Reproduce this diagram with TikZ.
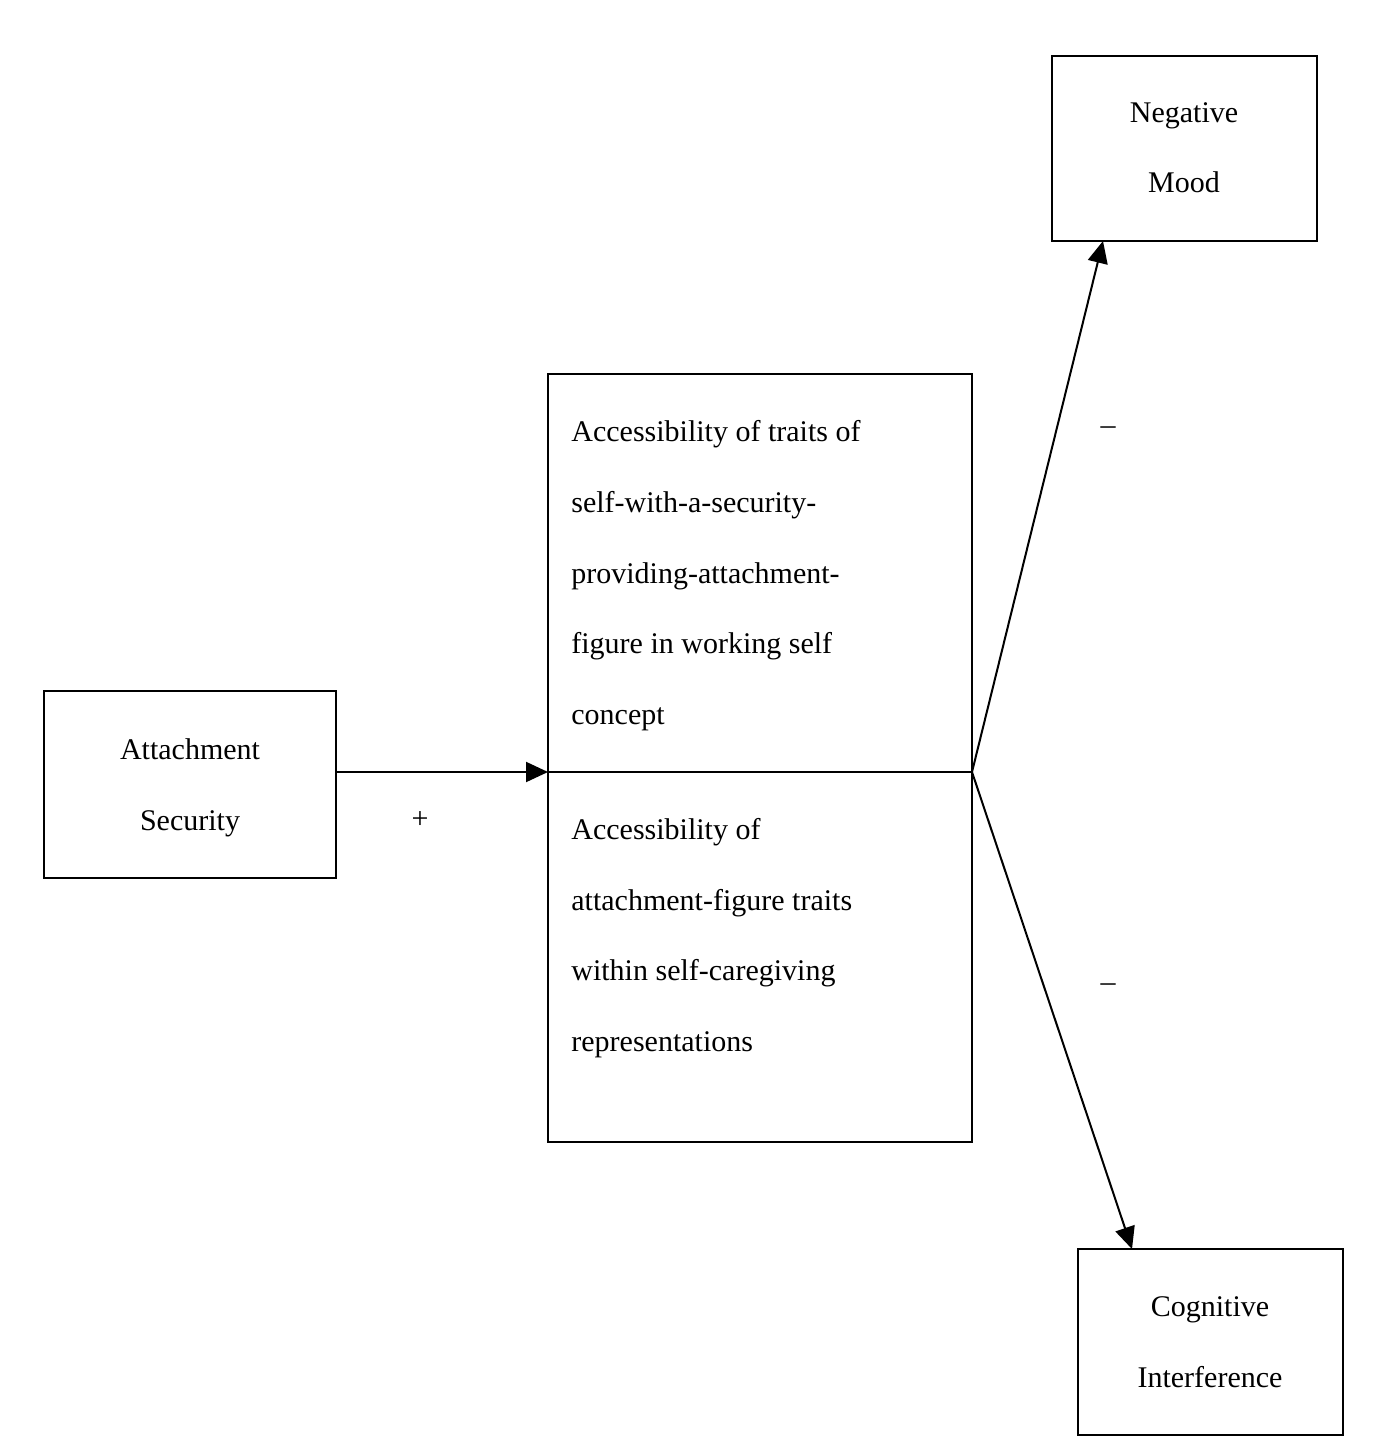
\documentclass[tikz,border=0pt]{standalone}
\usepackage{fontspec}
\setmainfont{Liberation Serif}
\usetikzlibrary{arrows.meta}
\begin{document}
\begin{tikzpicture}[x=0.5pt,y=-0.5pt,
  box/.style={draw,line width=1pt},
  t/.style={font=\fontsize{15}{18}\selectfont,inner sep=0pt,anchor=base west},
  c/.style={font=\fontsize{15}{18}\selectfont,inner sep=0pt,anchor=base},
  arr/.style={line width=1pt,-{Triangle[length=11pt,width=10pt]}}]
\useasboundingbox (0,0) rectangle (1372,1455);
\draw[box] (44,691) rectangle (336,878);
\draw[box] (548,374) rectangle (972,1142);
\draw[box] (1052,56) rectangle (1317,241);
\draw[box] (1078,1249) rectangle (1343,1435);
\coordinate (as) at (336,772);
\coordinate (mid) at (548,772);
\coordinate (hub) at (972,772);
\coordinate (nm) at (1103,241);
\coordinate (ci) at (1132,1249);
\draw[line width=1pt] (mid) -- (hub);
\draw[arr] (as) -- (mid);
\draw[arr] (hub) -- (nm);
\draw[arr] (hub) -- (ci);
\node[c] (a1) at (190,759) {Attachment};
\node[c] (a2) at (190,830) {Security};
\node[c] (n1) at (1184,123) {Negative};
\node[c] (n2) at (1184,193) {Mood};
\node[c] (g1) at (1210,1316) {Cognitive};
\node[c] (g2) at (1210,1387) {Interference};
\node[c] (p) at (420,828) {+};
\node[c] (m1) at (1108,434) {--};
\node[c] (m2) at (1108,991) {--};
\node[t] (l1) at (571,441) {Accessibility of traits of};
\node[t] (l2) at (571,512) {self-with-a-security-};
\node[t] (l3) at (571,583) {providing-attachment-};
\node[t] (l4) at (571,653) {figure in working self};
\node[t] (l5) at (571,724) {concept};
\node[t] (k1) at (571,839) {Accessibility of};
\node[t] (k2) at (571,910) {attachment-figure traits};
\node[t] (k3) at (571,980) {within self-caregiving};
\node[t] (k4) at (571,1051) {representations};
\end{tikzpicture}
\end{document}
